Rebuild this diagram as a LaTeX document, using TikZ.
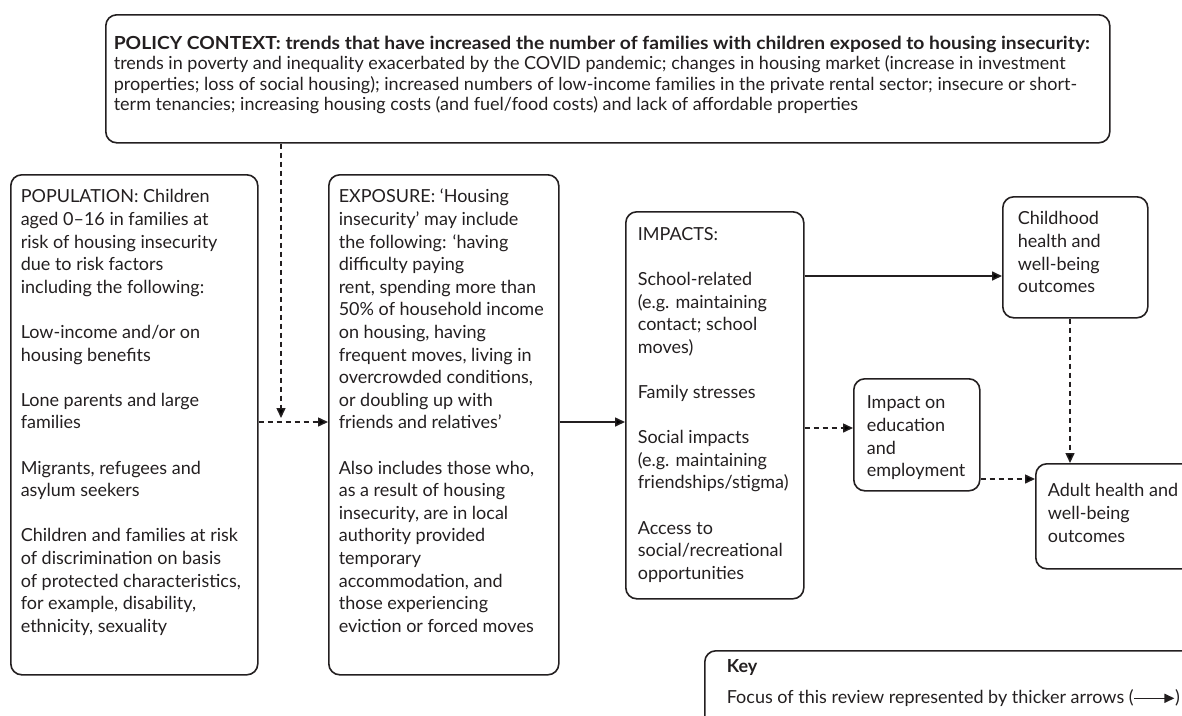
\documentclass[tikz,border=0pt]{standalone}
\usepackage{fontspec}
\setmainfont{Lato}
\newfontfamily\widebf{Lato}[FakeStretch=1.07]
\usetikzlibrary{arrows.meta}
\definecolor{ink}{HTML}{231F20}
\begin{document}
\begin{tikzpicture}[x=1pt,y=-1pt,
  box/.style={draw=ink, line width=1.6pt, rounded corners=11pt, anchor=north west,
    inner sep=0pt, text=ink, font=\fontsize{18}{22.6}\selectfont},
  conn/.style={draw=ink, line width=1.6pt, -{Triangle[length=10pt,width=9pt]}},
  dconn/.style={conn, line width=1.5pt, dash pattern=on 5pt off 4pt}]
\useasboundingbox (0,0) rectangle (1182,715);
\clip (0,0) rectangle (1182,715);

\node[box, inner xsep=8pt, inner ysep=20.1pt, font=\fontsize{18}{20.5}\selectfont] (policy) at (105,14)
  {\parbox[t][87.8pt][t]{988pt}{\raggedright\strut{\widebf\bfseries POLICY CONTEXT: trends that have increased the number of families with children exposed to housing insecurity:}\\
  trends in poverty and inequality exacerbated by the COVID pandemic; changes in housing market (increase in investment\\
  properties; loss of social housing); increased numbers of low-income families in the private rental sector; insecure or short-\\
  term tenancies; increasing housing costs (and fuel/food costs) and lack of affordable properties}};

\node[box, inner xsep=10pt, inner ysep=12.2pt] (pop) at (10,174)
  {\parbox[t][475.6pt][t]{227pt}{\raggedright\strut POPULATION: Children\\
  aged 0–16 in families at\\
  risk of housing insecurity\\
  due to risk factors\\
  including the following:\\[\baselineskip]
  Low-income and/or on\\
  housing benefits\\[\baselineskip]
  Lone parents and large\\
  families\\[\baselineskip]
  Migrants, refugees and\\
  asylum seekers\\[\baselineskip]
  Children and families at risk\\
  of discrimination on basis\\
  of protected characteristics,\\
  for example, disability,\\
  ethnicity, sexuality}};

\node[box, inner xsep=10pt, inner ysep=12.2pt] (expo) at (328,174)
  {\parbox[t][475.6pt][t]{210pt}{\raggedright\strut EXPOSURE: ‘Housing\\
  insecurity’ may include\\
  the following: ‘having\\
  difficulty paying\\
  rent, spending more than\\
  50\% of household income\\
  on housing, having\\
  frequent moves, living in\\
  overcrowded conditions,\\
  or doubling up with\\
  friends and relatives’\\[\baselineskip]
  Also includes those who,\\
  as a result of housing\\
  insecurity, are in local\\
  authority provided\\
  temporary\\
  accommodation, and\\
  those experiencing\\
  eviction or forced moves}};

\node[box, inner xsep=12pt, inner ysep=12.7pt] (imp) at (625,211)
  {\parbox[t][361.6pt][t]{154pt}{\raggedright\strut IMPACTS:\\[\baselineskip]
  School-related\\
  (e.g. maintaining\\
  contact; school\\
  moves)\\[\baselineskip]
  Family stresses\\[\baselineskip]
  Social impacts\\
  (e.g. maintaining\\
  friendships/stigma)\\[\baselineskip]
  Access to\\
  social/recreational\\
  opportunities}};

\node[box, inner xsep=15pt, inner ysep=12.2pt] (child) at (1002,196)
  {\parbox[t][96.6pt][t]{115pt}{\raggedright\strut Childhood\\
  health and\\
  well-being\\
  outcomes}};

\node[box, inner xsep=13pt, inner ysep=14.2pt] (edu) at (853,378)
  {\parbox[t][83.6pt][t]{100pt}{\raggedright\strut Impact on\\
  education\\
  and\\
  employment}};

\node[box, inner xsep=12pt, inner ysep=17.2pt] (adult) at (1035,463)
  {\parbox[t][70.6pt][t]{156pt}{\raggedright\strut Adult health and\\
  well-being\\
  outcomes}};

\node[box, inner xsep=22pt, inner ysep=0.3pt, font=\fontsize{18}{31}\selectfont] (key) at (704,650)
  {\parbox[t][84pt][t]{500pt}{\raggedright\strut\textbf{Key}\\
  Focus of this review represented by thicker arrows (\tikz[baseline=-5.5pt]\draw[draw=ink, line width=1.6pt, -{Triangle[length=10pt,width=9pt]}] (0pt,0pt) -- (40pt,0pt);)}};

\coordinate (ptip) at (281,418);
\draw[dconn] (policy.south -| ptip) -- (ptip);
\draw[dconn] (pop.east |- 0,422) -- (expo.west |- 0,422);
\draw[conn] (expo.east |- 0,422) -- (imp.west |- 0,422);
\draw[conn] (imp.east |- 0,276) -- (child.west |- 0,276);
\draw[dconn] (imp.east |- 0,428) -- (edu.west |- 0,428);
\draw[dconn] (child.south -| 1070,0) -- (adult.north -| 1070,0);
\draw[dconn] (edu.east |- 0,479) -- (adult.west |- 0,479);
\end{tikzpicture}
\end{document}
